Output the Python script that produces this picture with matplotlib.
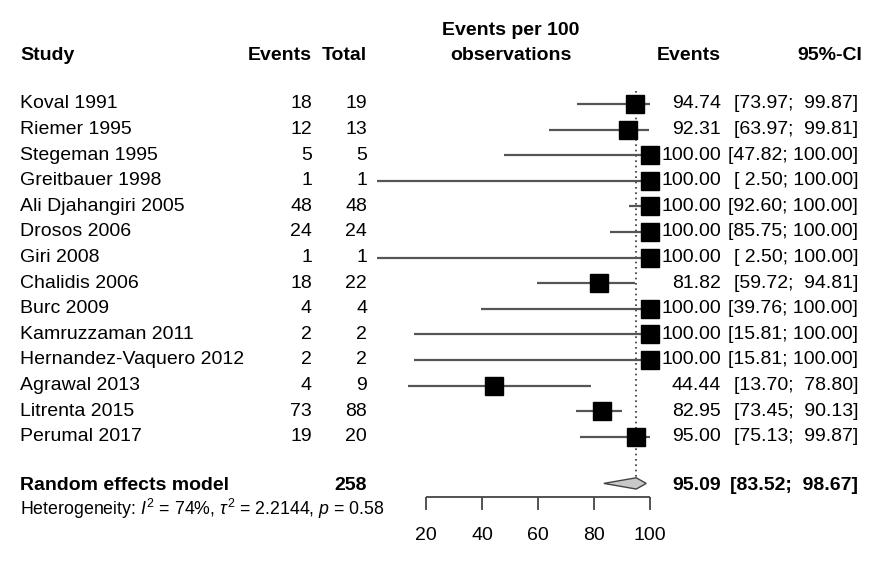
import numpy as np
import matplotlib.pyplot as plt
from matplotlib import transforms
from matplotlib.patches import Polygon

plt.rcParams["font.family"] = ["Liberation Sans", "DejaVu Sans"]
plt.rcParams["mathtext.fontset"] = "custom"
plt.rcParams["mathtext.rm"] = "Liberation Sans"
plt.rcParams["mathtext.it"] = "Liberation Sans:italic"

study = ["Koval 1991", "Riemer 1995", "Stegeman 1995", "Greitbauer 1998",
         "Ali Djahangiri 2005", "Drosos 2006", "Giri 2008", "Chalidis 2006",
         "Burc 2009", "Kamruzzaman 2011", "Hernandez-Vaquero 2012",
         "Agrawal 2013", "Litrenta 2015", "Perumal 2017"]
events = [18, 12, 5, 1, 48, 24, 1, 18, 4, 2, 2, 4, 73, 19]
total = [19, 13, 5, 1, 48, 24, 1, 22, 4, 2, 2, 9, 88, 20]
est = [94.74, 92.31, 100.00, 100.00, 100.00, 100.00, 100.00, 81.82,
       100.00, 100.00, 100.00, 44.44, 82.95, 95.00]
lower = [73.97, 63.97, 47.82, 2.50, 92.60, 85.75, 2.50, 59.72,
         39.76, 15.81, 15.81, 13.70, 73.45, 75.13]
upper = [99.87, 99.81, 100.00, 100.00, 100.00, 100.00, 100.00, 94.81,
         100.00, 100.00, 100.00, 78.80, 90.13, 99.87]
pooled, pooled_lo, pooled_hi = 95.09, 83.52, 98.67
n_total = 258
ticks = [20, 40, 60, 80, 100]

fs = 14
fig = plt.figure(figsize=(8.85, 5.72), dpi=100)
ax = fig.add_axes([0, 0, 1, 1])
ax.set_xlim(-132.14, 183.93)
ax.set_ylim(18.28, -4.06)
ax.axis("off")

tr = transforms.blended_transform_factory(fig.transFigure, ax.transData)
rows = np.arange(len(study))

# headers
hy = -1.91
ax.text(0.0226, hy, "Study", transform=tr, fontsize=fs, weight="bold", va="center")
ax.text(0.3525, hy, "Events", transform=tr, fontsize=fs, weight="bold", va="center", ha="right")
ax.text(0.4147, hy, "Total", transform=tr, fontsize=fs, weight="bold", va="center", ha="right")
ax.text(0.577, hy, "observations", transform=tr, fontsize=fs, weight="bold", va="center", ha="center")
ax.text(0.577, -2.85, "Events per 100", transform=tr, fontsize=fs, weight="bold", va="center", ha="center")
ax.text(0.8147, hy, "Events", transform=tr, fontsize=fs, weight="bold", va="center", ha="right")
ax.text(0.974, hy, "95%-CI", transform=tr, fontsize=fs, weight="bold", va="center", ha="right")

# study rows
for i in rows:
    ax.text(0.0226, i, study[i], transform=tr, fontsize=fs, va="center")
    ax.text(0.3525, i, str(events[i]), transform=tr, fontsize=fs, va="center", ha="right")
    ax.text(0.4147, i, str(total[i]), transform=tr, fontsize=fs, va="center", ha="right")
    ax.text(0.8147, i, "%.2f" % est[i], transform=tr, fontsize=fs, va="center", ha="right")
    ax.text(0.9695, i, "[%5.2f; %6.2f]" % (lower[i], upper[i]), transform=tr,
            fontsize=fs, va="center", ha="right")

ax.hlines(rows, lower, upper, color="#555555", lw=1.6, zorder=2)
ax.plot(est, rows, "s", ms=12.5, color="black", zorder=3)

# pooled estimate
py = 14.82
ax.vlines(pooled, -0.5, py - 0.22, color="#333333", lw=1.2, linestyles=(0, (1, 2.2)), zorder=1)
dia = Polygon([[pooled_lo, py], [pooled, py - 0.22], [pooled_hi, py], [pooled, py + 0.22]],
              closed=True, facecolor="#c8c8c8", edgecolor="#444444", lw=1, zorder=3)
ax.add_patch(dia)
ax.text(0.0226, 14.9, "Random effects model", transform=tr, fontsize=fs, weight="bold", va="center")
ax.text(0.4147, 14.9, str(n_total), transform=tr, fontsize=fs, weight="bold", va="center", ha="right")
ax.text(0.8147, 14.9, "%.2f" % pooled, transform=tr, fontsize=fs, weight="bold", va="center", ha="right")
ax.text(0.9695, 14.9, "[%5.2f; %6.2f]" % (pooled_lo, pooled_hi), transform=tr,
        fontsize=fs, weight="bold", va="center", ha="right")
ax.text(0.0226, 15.82, r"Heterogeneity: $\mathit{I}^2$ = 74%, $\tau^2$ = 2.2144, $\mathit{p}$ = 0.58",
        transform=tr, fontsize=12.8, va="center")

# x axis
axy = 15.35
ax.hlines(axy, ticks[0], ticks[-1], color="#444444", lw=1.3)
ax.vlines(ticks, axy, axy + 0.5, color="#444444", lw=1.3)
for t in ticks:
    ax.text(t, 16.84, str(t), fontsize=fs, ha="center", va="center")

fig.savefig("out.png", dpi=100)
